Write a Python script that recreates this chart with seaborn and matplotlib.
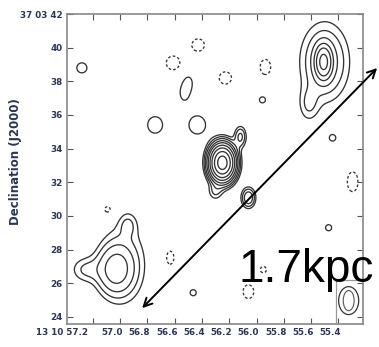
import numpy as np
import matplotlib
matplotlib.use("Agg")
import matplotlib.pyplot as plt
import matplotlib.transforms as mtransforms
from matplotlib.patches import Ellipse, Rectangle
import seaborn as sns

#---------------------------------------------------------------------------------
#  Map data : gaussian components
#  RA in seconds (13h10m..), Dec in arcsec (37d03m..)
#---------------------------------------------------------------------------------
comp_ra = [56.251, 56.119, 56.303, 56.060,
           55.509, 55.501, 55.619,
           57.038, 56.965, 57.259, 56.943,
           57.281, 56.744, 56.531, 56.501, 56.435,
           55.957, 55.443, 55.472, 56.465,
           56.428, 56.612, 56.229, 55.935, 55.296, 56.634, 56.060, 57.090, 55.950]
comp_dec = [33.16, 34.70, 31.44, 31.08,
            39.15, 39.15, 36.60,
            26.81, 27.28, 26.81, 29.48,
            38.80, 35.41, 37.25, 37.96, 35.41,
            36.90, 34.64, 29.30, 25.44,
            40.16, 39.09, 38.20, 38.85, 32.03, 27.52, 25.50, 30.37, 26.81]
comp_amp = [150, 9, 5, 12,
            30, 10, 4.5,
            14, 5, 5, 4,
            4, 4.2, 3.6, 3.6, 4.2,
            4.0, 4.0, 4.0, 4.0,
            -4, -4, -4, -4, -4, -4, -4, -4, -4]
comp_sra = [0.0515, 0.029, 0.037, 0.033,
            0.037, 0.118, 0.051,
            0.088, 0.118, 0.074, 0.044,
            0.0485, 0.066, 0.037, 0.037, 0.0735,
            0.029, 0.029, 0.029, 0.029,
            0.059, 0.066, 0.059, 0.051, 0.051, 0.037, 0.051, 0.044, 0.029]
comp_sdec = [0.593, 0.415, 0.356, 0.386,
             0.593, 1.54, 0.712,
             0.95, 1.78, 0.534, 0.475,
             0.39, 0.593, 0.475, 0.475, 0.653,
             0.237, 0.237, 0.237, 0.237,
             0.475, 0.534, 0.475, 0.593, 0.77, 0.534, 0.534, 0.356, 0.237]

contour_levels = [-3, 3, 5, 8, 13, 20, 32, 50, 80, 120]

ra_ticks = [57.2, 57.0, 56.8, 56.6, 56.4, 56.2, 56.0, 55.8, 55.6, 55.4]
ra_labels = ["13 10 57.2", "57.0", "56.8", "56.6", "56.4", "56.2", "56.0", "55.8", "55.6", "55.4"]
dec_ticks = [24, 26, 28, 30, 32, 34, 36, 38, 40, 42]
dec_labels = ["24", "26", "28", "30", "32", "34", "36", "38", "40", "37 03 42"]

beam_ra, beam_dec = 55.325, 24.97
beam_w, beam_h = 0.147, 1.66
beam_inner_w, beam_inner_h = 0.08, 1.2

scale_text = "1.7kpc"

LABEL_COLOR = "#2b3655"

"""---------------------------------------------------------------------------------
#  Build the brightness map from the components
#---------------------------------------------------------------------------------"""
def buildMap():
    ra = np.linspace(57.39, 55.22, 700)
    dec = np.linspace(23.58, 42.0, 700)
    RA, DEC = np.meshgrid(ra, dec)
    flux = np.zeros_like(RA)
    for r0, d0, a, sr, sd in zip(comp_ra, comp_dec, comp_amp, comp_sra, comp_sdec):
        flux += a * np.exp(-0.5 * ((RA - r0) / sr) ** 2 - 0.5 * ((DEC - d0) / sd) ** 2)
    return RA, DEC, flux

"""---------------------------------------------------------------------------------
#  Draw contour map
#---------------------------------------------------------------------------------"""
def plotMap():
    sns.set_style("ticks")
    plt.rcParams["contour.negative_linestyle"] = (0, (2.0, 1.6))

    fig = plt.figure(figsize=(3.79, 3.47), dpi=100)
    ax = fig.add_axes([67 / 379, 23 / 347, 296 / 379, 310 / 347])

    RA, DEC, flux = buildMap()
    ax.contour(RA, DEC, flux, levels=contour_levels, colors="#333333", linewidths=0.95)

    ax.set_xlim(57.39, 55.22)
    ax.set_ylim(23.58, 42.0)

    # beam in the corner
    ax.add_patch(Rectangle((55.22, 23.58), 0.201, 2.63, fill=False, edgecolor="#999999", lw=0.9))
    ax.add_patch(Ellipse((beam_ra, beam_dec), beam_w, beam_h, fill=False, edgecolor="#333333", lw=0.9))
    ax.add_patch(Ellipse((beam_ra, beam_dec), beam_inner_w, beam_inner_h, fill=False, edgecolor="#555555", lw=0.8))

    ax.set_xticks(ra_ticks)
    ax.set_xticklabels(ra_labels)
    ax.set_yticks(dec_ticks)
    ax.set_yticklabels(dec_labels)
    ax.tick_params(direction="in", length=4, width=0.8, color="#555555", top=True, right=True,
                   labelsize=6.3, labelcolor=LABEL_COLOR, pad=3)
    for lab in ax.get_xticklabels() + ax.get_yticklabels():
        lab.set_fontweight("bold")
        lab.set_family(["Liberation Sans Narrow", "DejaVu Sans"])
    # labels sit a little to the left of their ticks in the original
    for i, lab in enumerate(ax.get_xticklabels()):
        shift = -5 if i == 0 else -8
        if i == 0:
            lab.set_ha("right")
        lab.set_transform(lab.get_transform() + mtransforms.ScaledTranslation(shift / 100, 0, fig.dpi_scale_trans))

    for sp in ax.spines.values():
        sp.set_color("#888888")
        sp.set_linewidth(1.2)

    fig.text(16 / 379, 1 - 162 / 347, "Declination (J2000)", rotation=90, ha="center", va="center",
             fontsize=8.5, fontweight="bold", color=LABEL_COLOR)

    ax.annotate("", xy=(0.995, 0.804), xytext=(0.375, 0.112),
                xycoords="figure fraction", textcoords="figure fraction",
                arrowprops=dict(arrowstyle="<->", color="black", lw=1.4,
                                mutation_scale=15, shrinkA=0, shrinkB=0),
                annotation_clip=False)

    fig.text(238 / 379, 65 / 347, scale_text, ha="left", va="baseline", fontsize=33,
             family=["Liberation Sans", "DejaVu Sans"], color="black")

    fig.savefig("out.png", dpi=100, facecolor="white")

def main():
    plotMap()

if __name__ == "__main__":
    main()
